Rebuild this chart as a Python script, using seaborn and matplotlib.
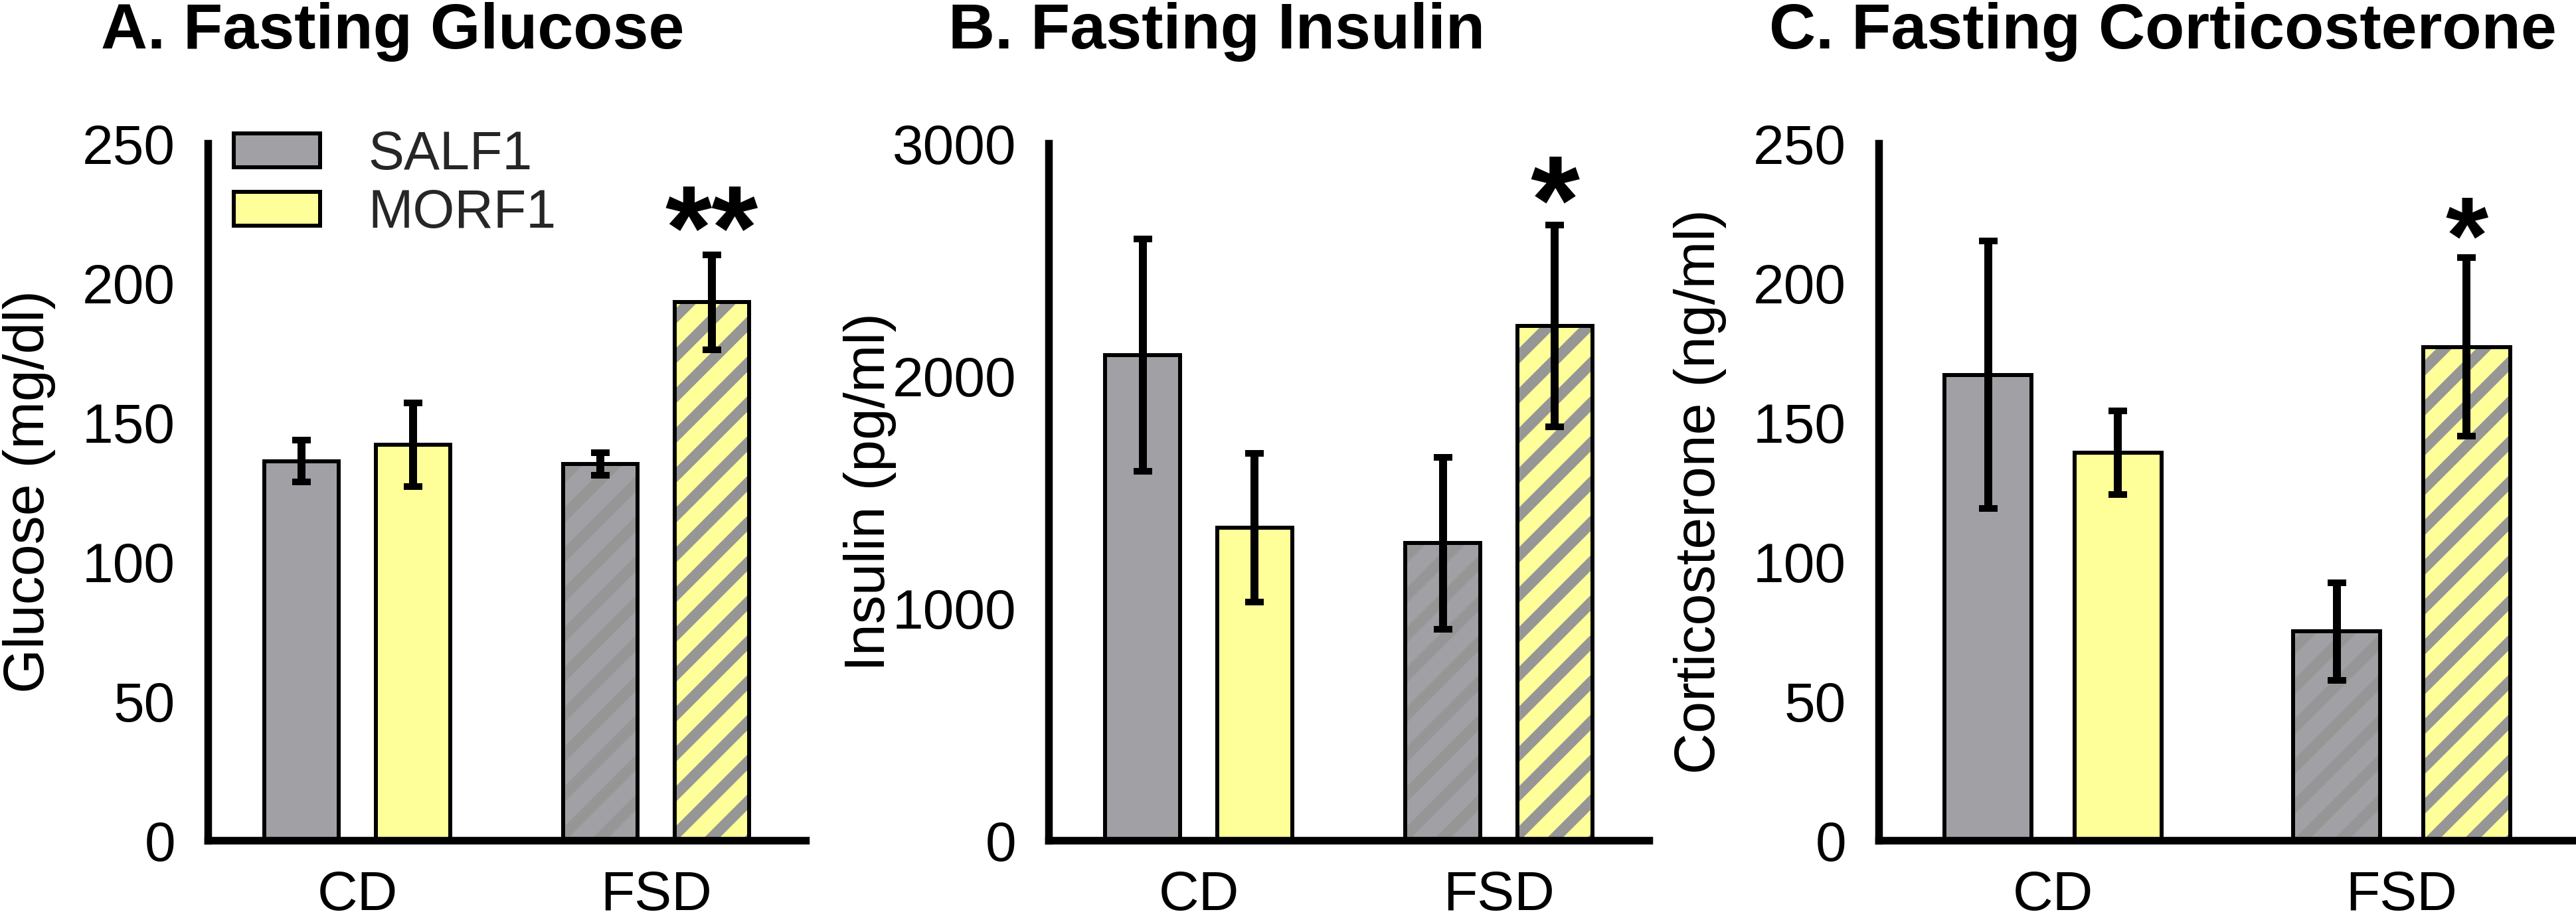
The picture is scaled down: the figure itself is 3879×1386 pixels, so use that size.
import numpy as np
import pandas as pd
import matplotlib
matplotlib.use("Agg")
import matplotlib.pyplot as plt
from matplotlib.patches import Rectangle, Patch
from matplotlib.container import BarContainer
from matplotlib.collections import LineCollection
from matplotlib.transforms import IdentityTransform
import seaborn as sns

# ---------------- data ----------------
diets = ["CD", "FSD"]
strains = ["SALF1", "MORF1"]

glucose_mean = {"SALF1": [136, 135], "MORF1": [142, 193]}
glucose_sem = {"SALF1": [7.5, 4], "MORF1": [15, 17]}

insulin_mean = {"SALF1": [2090, 1280], "MORF1": [1345, 2215]}
insulin_sem = {"SALF1": [500, 370], "MORF1": [320, 435]}

cort_mean = {"SALF1": [167, 75], "MORF1": [139, 177]}
cort_sem = {"SALF1": [48, 17.5], "MORF1": [15, 32]}

titles = ["A. Fasting Glucose", "B. Fasting Insulin", "C. Fasting Corticosterone"]
ylabels = ["Glucose (mg/dl)", "Insulin (pg/ml)", "Corticosterone (ng/ml)"]
yticks = [[0, 50, 100, 150, 200, 250], [0, 1000, 2000, 3000], [0, 50, 100, 150, 200, 250]]
ylims = [250, 3000, 250]
stars = ["**", "*", "*"]

# ---------------- style ----------------
W, H, DPI = 3879, 1386, 360
sns.set_theme(style="white")
plt.rcParams["font.family"] = ["Liberation Sans", "DejaVu Sans"]

gray = "#A1A0A5"
yellow = "#FFFF99"
hatch_gray = "#969696"
palette = {"SALF1": gray, "MORF1": yellow}

fs_tick = 16.8
fs_label = 17.2
fs_title = 19.4
fs_leg = 16.2
star_fs = [36, 38, 33]
star_off = [-4.2, -5.4, -4.6]
stripe_period = 60      # px, vertical distance between stripes
stripe_lw = 3.3         # pt

fig = plt.figure(figsize=(W / DPI, H / DPI), dpi=DPI)

# axes layout in pixels: (left spine x, width)
ax_px = [(313, 900), (1579, 904), (2829, 1050)]
y_top, y_bot = 216, 1266
title_x = [152, 1428, 2664]

means = [glucose_mean, insulin_mean, cort_mean]
sems = [glucose_sem, insulin_sem, cort_sem]


def add_stripes(ax, bar):
    (x0, y0) = ax.transData.transform((bar.get_x(), bar.get_y()))
    (x1, y1) = ax.transData.transform((bar.get_x() + bar.get_width(),
                                       bar.get_y() + bar.get_height()))
    b_lo = y0 - x1 - stripe_period
    b_hi = y1 - x0 + stripe_period
    segs = [[(x0 - 5, x0 - 5 + b), (x1 + 5, x1 + 5 + b)]
            for b in np.arange(b_lo, b_hi, stripe_period)]
    lc = LineCollection(segs, colors=hatch_gray, linewidths=stripe_lw,
                        transform=IdentityTransform(), zorder=2.2,
                        capstyle="butt")
    ax.add_collection(lc, autolim=False)
    lc.set_clip_path(bar.get_path(), bar.get_transform())


for k in range(3):
    left, wid = ax_px[k]
    ax = fig.add_axes([left / W, (H - y_bot) / H, wid / W, (y_bot - y_top) / H])
    df = pd.DataFrame({
        "diet": diets * 2,
        "strain": [strains[0]] * 2 + [strains[1]] * 2,
        "value": means[k]["SALF1"] + means[k]["MORF1"],
    })
    sns.barplot(data=df, x="diet", y="value", hue="strain", order=diets,
                hue_order=strains, palette=palette, saturation=1,
                width=0.745, gap=0.33, edgecolor="black", linewidth=1.2,
                errorbar=None, legend=False, ax=ax, zorder=2)
    ax.set_xlim(-0.5, 1.5)
    ax.set_ylim(0, ylims[k])
    ax.set_yticks(yticks[k])
    ax.set_yticklabels([str(v) for v in yticks[k]])

    bar_conts = [c for c in ax.containers if isinstance(c, BarContainer)]
    for hi, cont in enumerate(bar_conts):
        strain = strains[hi]
        bars = sorted(cont.patches, key=lambda p: p.get_x())
        for j, bar in enumerate(bars):
            x = bar.get_x() + bar.get_width() / 2
            h = bar.get_height()
            e = sems[k][strain][j]
            if diets[j] == "FSD":
                add_stripes(ax, bar)
                ax.add_patch(Rectangle((bar.get_x(), bar.get_y()), bar.get_width(),
                                       bar.get_height(), facecolor="none",
                                       edgecolor="black", linewidth=1.2, zorder=2.5))
            ax.errorbar([x], [h], yerr=[e], fmt="none", ecolor="black",
                        elinewidth=2.4, capsize=2.8, capthick=2.0, zorder=3)
            if diets[j] == "FSD" and strain == "MORF1":
                ax.annotate(stars[k], xy=(x, h + e), xytext=(0, star_off[k]),
                            textcoords="offset points", ha="center", va="baseline",
                            fontsize=star_fs[k], fontweight="bold", color="black")

    for s in ["top", "right"]:
        ax.spines[s].set_visible(False)
    for s in ["left", "bottom"]:
        ax.spines[s].set_linewidth(2.3)
        ax.spines[s].set_color("black")
    ax.tick_params(axis="both", which="major", length=6.6, width=2.3,
                   color="black", labelsize=fs_tick, labelcolor="black",
                   direction="out")
    ax.tick_params(axis="y", pad=3.2)
    ax.tick_params(axis="x", pad=2.2)
    ax.set_xlabel("")
    ax.set_ylabel(ylabels[k], fontsize=fs_label, color="black")
    ax.yaxis.set_label_coords(-229 / wid, 0.5)
    ax.set_facecolor("white")
    ax.grid(False)

    fig.text(title_x[k] / W, 1 - 73 / H, titles[k], ha="left", va="baseline",
             fontsize=fs_title, fontweight="bold", color="black")

    if k == 0:
        handles = [Patch(facecolor=palette[s], edgecolor="black", linewidth=1.2)
                   for s in strains]
        ax.legend(handles=handles, labels=strains, loc="upper left",
                  bbox_to_anchor=(352 / W, 1 - 196 / H),
                  bbox_transform=fig.transFigure, frameon=False,
                  fontsize=fs_leg, handlelength=1.6, handleheight=0.59,
                  handletextpad=0.9, labelspacing=0.15, borderpad=0,
                  borderaxespad=0)

fig.savefig("out.png", dpi=DPI, facecolor="white")
